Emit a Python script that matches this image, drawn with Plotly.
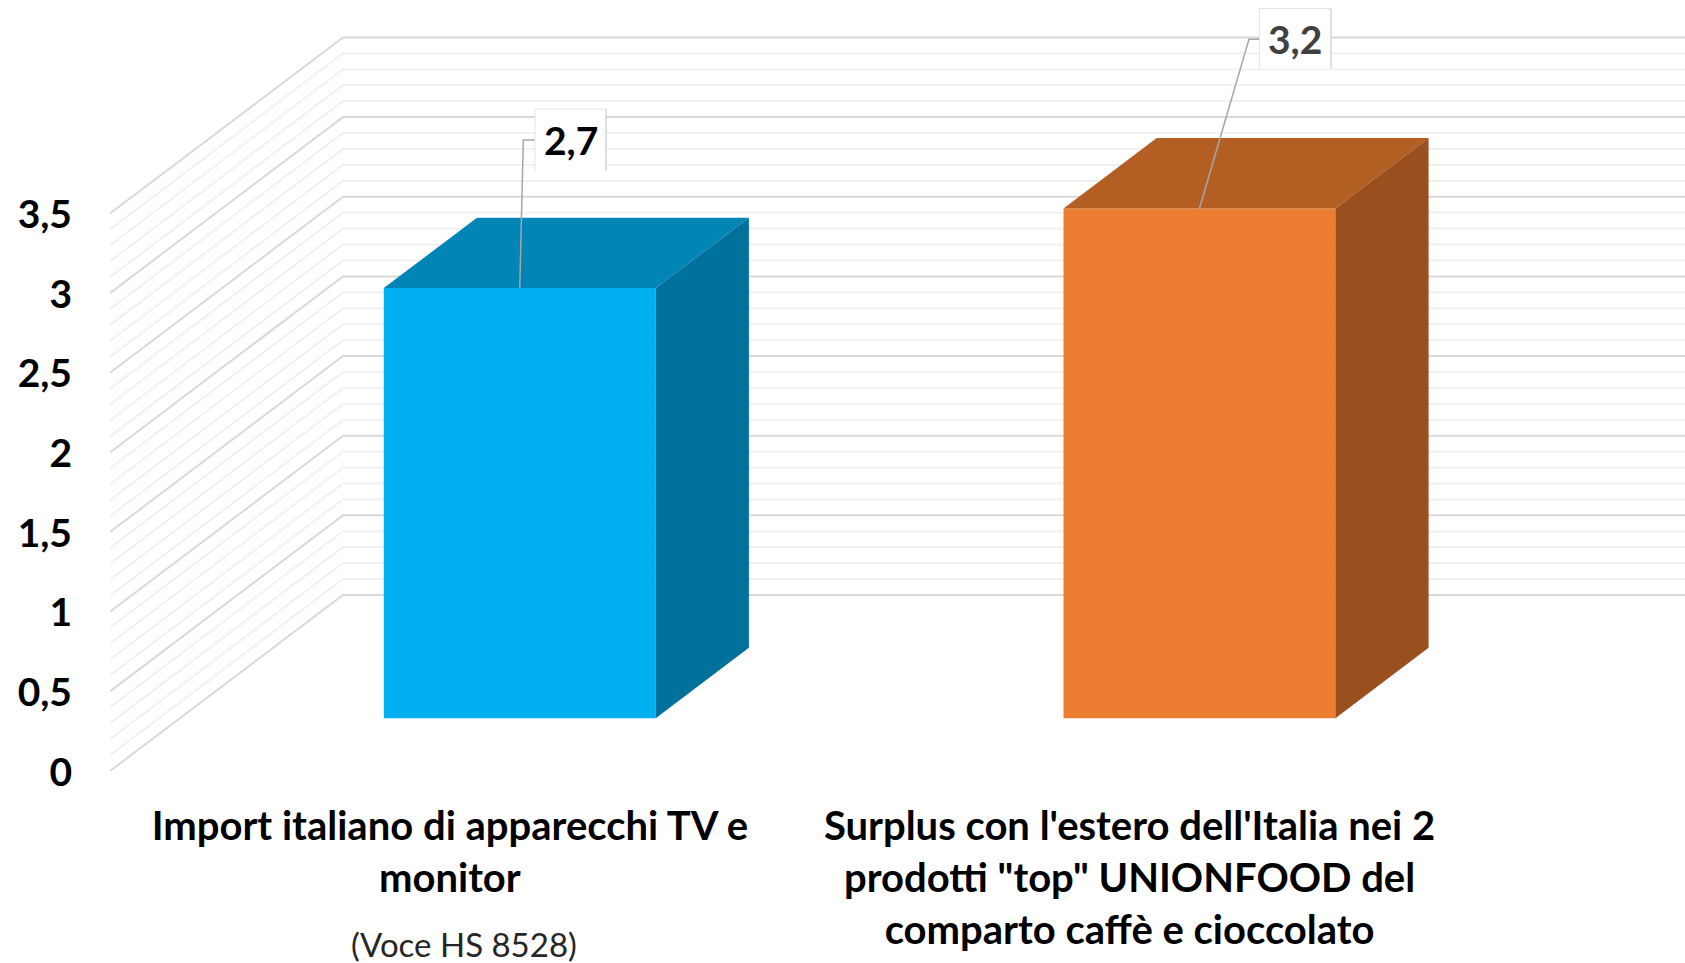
import plotly.graph_objects as go

# ---- data ----
categories = [
    "Import italiano di apparecchi TV e<br>monitor",
    "Surplus con l'estero dell'Italia nei 2<br>prodotti \"top\" UNIONFOOD del<br>comparto caffè e cioccolato",
]
values = [2.7, 3.2]
value_labels = ["2,7", "3,2"]
y_ticks = [0, 0.5, 1, 1.5, 2, 2.5, 3, 3.5]
y_tick_labels = ["0", "0,5", "1", "1,5", "2", "2,5", "3", "3,5"]
category_note = "(Voce HS 8528)"

front_colors = ["#00B0F0", "#ED7D31"]
top_colors = ["#0085B6", "#B35E23"]
side_colors = ["#00719B", "#9A501E"]
label_colors = ["#000000", "#404040"]

# ---- geometry of the oblique projection (axis units) ----
W, H = 1685, 963
ML, MB = 110, 192
PX_X = 679.7   # pixels per category
PX_Y = 159.3   # pixels per value unit
X_MAX = (W - ML) / PX_X
Y_MAX = (H - MB) / PX_Y
DX = 233 / PX_X  # wall depth offset in x units
DY = 176 / PX_Y  # wall depth offset in y units
Z0, Z1 = 0.3, 0.7  # bar depth start / end
BAR_W = 0.4


def px_x(p):
    return (p - ML) / PX_X


def px_y(p):
    return (H - MB - p) / PX_Y


fig = go.Figure()

# front faces
centers = [i + 0.5 for i in range(len(values))]
fig.add_trace(go.Bar(
    x=[c + Z0 * DX for c in centers],
    y=values,
    base=[Z0 * DY] * len(values),
    width=BAR_W,
    marker=dict(color=front_colors, line=dict(width=0)),
    hoverinfo="skip",
    showlegend=False,
))

# top and side faces
for c, v, tc, sc in zip(centers, values, top_colors, side_colors):
    xl = c - BAR_W / 2 + Z0 * DX
    xr = c + BAR_W / 2 + Z0 * DX
    yb = Z0 * DY
    yt = v + Z0 * DY
    ddx = (Z1 - Z0) * DX
    ddy = (Z1 - Z0) * DY
    fig.add_trace(go.Scatter(
        x=[xl, xr, xr + ddx, xl + ddx, xl], y=[yt, yt, yt + ddy, yt + ddy, yt],
        mode="lines", fill="toself", fillcolor=tc, line=dict(width=0),
        hoverinfo="skip", showlegend=False))
    fig.add_trace(go.Scatter(
        x=[xr, xr + ddx, xr + ddx, xr, xr], y=[yt, yt + ddy, yb + ddy, yb, yt],
        mode="lines", fill="toself", fillcolor=sc, line=dict(width=0),
        hoverinfo="skip", showlegend=False))

# oblique wall gridlines, below the traces
shapes = []
for k in range(36):
    v = k / 10
    major = k % 5 == 0
    path = f"M 0 {v} L {DX} {v + DY} L {X_MAX + 0.1} {v + DY}"
    shapes.append(dict(
        type="path", path=path, xref="x", yref="y", layer="below",
        line=dict(color="#D9D9D9" if major else "#EFEFEF", width=2 if major else 1.75)))

# label boxes and leader lines
boxes = [(535, 606, 109, 171), (1259.5, 1331, 8.5, 68.5)]
elbows = [(523.3, 140), (1249, 39.3)]
annotations = []
for i, (c, v) in enumerate(zip(centers, values)):
    x0, x1, y0, y1 = boxes[i]
    ex, ey = elbows[i]
    fig.add_trace(go.Scatter(
        x=[c + Z0 * DX, px_x(ex), px_x(x0)],
        y=[v + Z0 * DY, px_y(ey), px_y(ey)],
        mode="lines", line=dict(color="#A6A6A6", width=1.5),
        hoverinfo="skip", showlegend=False))
    shapes.append(dict(type="rect", xref="x", yref="y", layer="above",
                       x0=px_x(x0), x1=px_x(x1), y0=px_y(y1), y1=px_y(y0),
                       fillcolor="white", line=dict(width=0)))
    shapes.append(dict(type="path", xref="x", yref="y", layer="above",
                       path=f"M {px_x(x0)} {px_y(y1)} L {px_x(x0)} {px_y(y0)} L {px_x(x1)} {px_y(y0)}",
                       line=dict(color="#E4E4E4", width=1)))
    shapes.append(dict(type="line", xref="x", yref="y", layer="above",
                       x0=px_x(x1), x1=px_x(x1), y0=px_y(y1), y1=px_y(y0),
                       line=dict(color="#BFBFBF", width=1)))
    annotations.append(dict(
        x=px_x((x0 + x1) / 2), y=px_y((y0 + y1) / 2), xref="x", yref="y",
        text=f"<b>{value_labels[i]}</b>", showarrow=False,
        font=dict(family="Lato", size=39, color=label_colors[i])))

# paper coordinates are relative to the plot area
annotations.append(dict(
    x=(464 - ML) / (W - ML), y=(H - MB - 944) / (H - MB), xref="paper", yref="paper",
    xanchor="center", yanchor="middle",
    text=category_note, showarrow=False,
    font=dict(family="Lato", size=33, color="#262626")))

fig.update_layout(
    width=W, height=H,
    margin=dict(l=ML, r=0, t=0, b=MB, pad=0, autoexpand=False),
    paper_bgcolor="white", plot_bgcolor="white",
    barmode="overlay", showlegend=False,
    shapes=shapes, annotations=annotations,
    font=dict(family="Lato"),
    xaxis=dict(
        range=[0, X_MAX], showgrid=False, zeroline=False, showline=False,
        tickmode="array", tickvals=centers,
        ticktext=[f"<b>{t.replace('<br>', '</b><br><b>')}</b>" for t in categories],
        tickangle=0, ticks="", ticklabelstandoff=28,
        tickfont=dict(family="Lato", size=40, color="#000000"),
    ),
    yaxis=dict(
        range=[0, Y_MAX], showgrid=False, zeroline=False, showline=False,
        tickmode="array", tickvals=y_ticks,
        ticktext=[f"<b>{t}</b>" for t in y_tick_labels],
        ticks="", ticklabelstandoff=37, ticklabelshift=1,
        tickfont=dict(family="Lato", size=39, color="#000000"),
    ),
)

fig.write_html("out.html", config={"displayModeBar": False},
               post_script="document.body.style.margin='0';document.body.style.overflow='hidden';")
